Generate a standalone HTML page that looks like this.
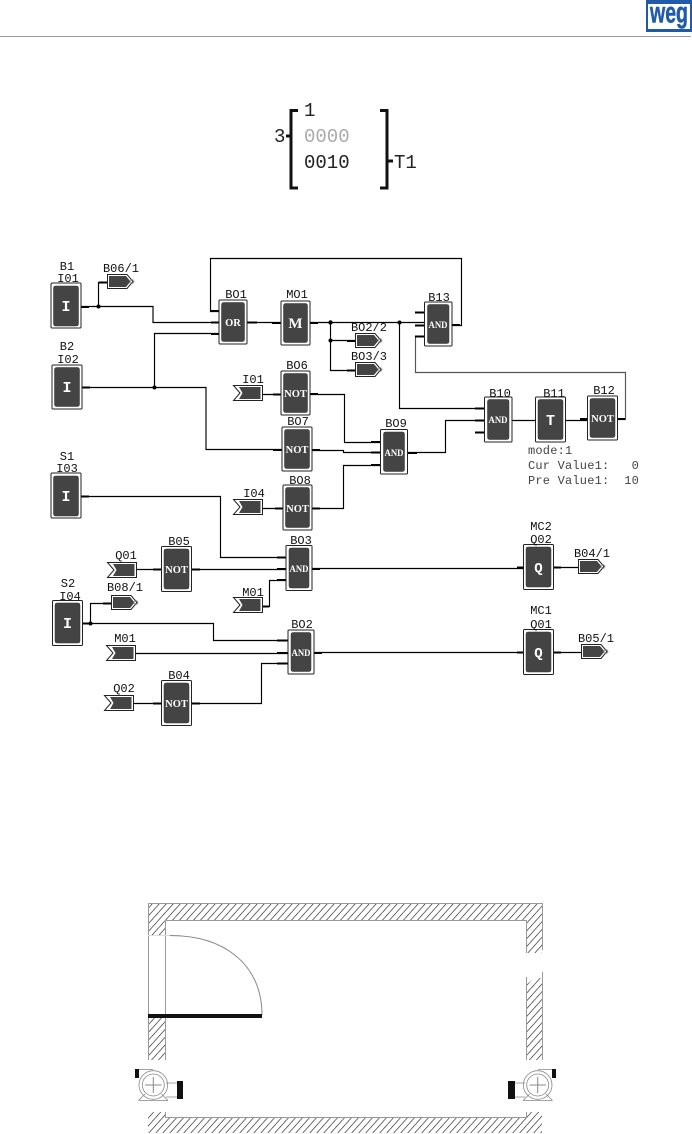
<!DOCTYPE html>
<html><head><meta charset="utf-8"><style>
html,body{margin:0;padding:0;background:#fff}
svg{display:block}
.w{fill:none;stroke:#000;stroke-width:1.15}
.s{fill:none;stroke:#000;stroke-width:2}
.o{fill:#fff;stroke:#222;stroke-width:1}
.i{fill:#444;stroke:#333;stroke-width:.5}
.l{font:12px "Liberation Mono",monospace;fill:#111;text-anchor:middle}
.b{font:bold 10.5px "Liberation Serif",serif;fill:#fff;text-anchor:middle}
.c{font:bold 15px "Liberation Mono",monospace;fill:#fff;text-anchor:middle}
.v{font:12px "Liberation Mono",monospace;fill:#444;letter-spacing:.2px;white-space:pre}
.m{font:19px "Liberation Mono",monospace}
.g{fill:none;stroke:#999;stroke-width:1}
</style></head><body>
<svg width="692" height="1134" viewBox="0 0 692 1134" xmlns="http://www.w3.org/2000/svg">
<defs>
<g id="tout"><polygon points="0.5,0.5 20,0.5 26,7.5 20,14.5 0.5,14.5" fill="#fff" stroke="#222"/><polygon points="2,2 19,2 23.5,7.5 19,13 2,13" fill="#444"/><circle cx="25" cy="7.5" r="2" fill="none" stroke="#777" stroke-width=".6"/></g>
<g id="tin"><polygon points="0.5,0.5 29.5,0.5 29.5,15.5 0.5,15.5 7,8" fill="#fff" stroke="#222"/><polygon points="6,2 27.5,2 27.5,14 6,14 9.5,8" fill="#444"/></g>
<pattern id="h" patternUnits="userSpaceOnUse" width="5.2" height="5.2" patternTransform="rotate(42)"><line x1="0" y1="0" x2="0" y2="5.2" stroke="#111" stroke-width="1.2"/></pattern>
</defs>
<rect width="692" height="1134" fill="#fff"/>

<!-- header -->
<line x1="0" y1="36.5" x2="691" y2="36.5" stroke="#999"/>
<rect x="646" y="0" width="46" height="32" fill="#1f5ba8"/>
<rect x="648" y="4" width="42" height="25" fill="#fff"/>
<text x="669" y="22.5" font-family="Liberation Sans,sans-serif" font-weight="bold" font-size="30" fill="#1f5ba8" stroke="#1f5ba8" stroke-width=".5" text-anchor="middle" textLength="38" lengthAdjust="spacingAndGlyphs">weg</text>

<!-- matrix -->
<path d="M298 110.5H291V188H298M291 136H286" fill="none" stroke="#111" stroke-width="3"/>
<path d="M380 110.5H387V188H380M387 161H393" fill="none" stroke="#111" stroke-width="3"/>
<text class="m" x="274" y="142" fill="#222">3</text>
<text class="m" x="304" y="116" fill="#222">1</text>
<text class="m" x="304" y="142" fill="#aaa">0000</text>
<text class="m" x="304" y="168" fill="#222">0010</text>
<text class="m" x="394" y="168" fill="#222">T1</text>

<!-- wires -->
<path class="w" d="M80 306.5H153V322.5H219M98.5 306.5V282.5H108"/>
<path class="w" d="M82 387.5H206V449.5H282M154.5 387.5V333.5H219"/>
<path class="w" d="M219 311.5H210.5V258.5H461.5V325.5H452"/>
<path class="w" d="M247 322.5H281M310 322.5H424M330.5 322.5V370.5H356M330.5 340.5H356"/>
<path class="w" d="M399.5 322.5V408.5H484"/>
<path class="w" style="stroke:#555" d="M424 336.5H415.5V372.5H625.5V419.5H618"/>
<path class="w" d="M512 420.5H535M565 420.5H587M484 420.5H445.5V452.5H408"/>
<path class="w" d="M263 394.5H281M310 394.5H344.5V442.5H380M312 450.5H343.5V452.5H380M263 508.5H283M312 508.5H343.5V465.5H380"/>
<path class="w" d="M81 496.5H220.5V557.5H286M136 569.5H161M192 569.5H286M263 606.5H269.5V580.5H286M312 568.5H523M553 567.5H578"/>
<path class="w" d="M83 623.5H213.5V640.5H288M90.5 623.5V603.5H111M135 653.5H288M133 703.5H161M192 703.5H261.5V663.5H288M314 652.5H523M553 652.5H581"/>
<!-- thick terminal stubs -->
<path class="s" d="M81 307H89M82 387.5H90M81 496.5H89M83 623.5H89M99 282.5H107M211 311H219M211 322.5H219M211 334H219M247 322.5H257M272 323H281M310 323H318M415 312.5H424M415 325.5H424M415 336.5H424M452 325H460M347 341H355M347 370.5H355"/>
<path class="s" d="M273 394.5H281M310 394H318M273 450H282M312 450H320M275 508.5H283M312 508.5H320M371 442H380M371 452.5H380M371 465H380M408 453H417"/>
<path class="s" d="M475 408.5H484M475 420.5H484M475 432.5H484M580 419H587M618 419H625"/>
<path class="s" d="M153 569.5H161M192 569.5H200M277 557.5H286M277 569H286M277 580H286M312 569H320M263 606.5H269M517 567.5H523M553 567.5H561"/>
<path class="s" d="M277 640.5H288M277 653H288M277 663.5H288M314 653H322M153 703.5H161M192 703.5H200M517 652.5H523M553 652.5H561M103 603.5H111"/>
<g fill="#000"><circle cx="98.5" cy="306.5" r="2"/><circle cx="154.5" cy="387.5" r="2"/><circle cx="330.5" cy="322.5" r="2.2"/><circle cx="330.5" cy="340.5" r="2"/><circle cx="399.5" cy="322.5" r="2"/><circle cx="90.5" cy="623.5" r="2"/></g>

<!-- blocks -->
<rect class="o" x="51" y="283" width="30" height="45" rx="1"/><rect class="i" x="53.5" y="286" width="25" height="40" rx="2"/>
<rect class="o" x="52" y="365" width="30" height="44" rx="1"/><rect class="i" x="54.5" y="367.5" width="25" height="39" rx="2"/>
<rect class="o" x="51" y="473" width="30" height="45" rx="1"/><rect class="i" x="53.5" y="476" width="25" height="40" rx="2"/>
<rect class="o" x="52.5" y="600.5" width="30" height="45" rx="1"/><rect class="i" x="55" y="603" width="25" height="40" rx="2"/>
<rect class="o" x="219" y="300" width="28" height="44" rx="1"/><rect class="i" x="221.5" y="302.5" width="23" height="39" rx="2"/>
<rect class="o" x="281" y="301" width="29" height="44" rx="1"/><rect class="i" x="283.5" y="303.5" width="24" height="39" rx="2"/>
<rect class="o" x="281" y="371" width="29" height="44" rx="1"/><rect class="i" x="283.5" y="373.5" width="24" height="39" rx="2"/>
<rect class="o" x="282" y="427" width="30" height="44" rx="1"/><rect class="i" x="284.5" y="429.5" width="25" height="39" rx="2"/>
<rect class="o" x="283" y="485" width="29" height="45" rx="1"/><rect class="i" x="285.5" y="487.5" width="24" height="40" rx="2"/>
<rect class="o" x="424.5" y="302" width="27.5" height="44" rx="1"/><rect class="i" x="427.5" y="304.5" width="21.5" height="39" rx="2"/>
<rect class="o" x="484.5" y="397" width="27.5" height="45" rx="1"/><rect class="i" x="487.5" y="399.5" width="21.5" height="40" rx="2"/>
<rect class="o" x="535.5" y="397" width="30" height="45" rx="1"/><rect class="i" x="538" y="399.5" width="25" height="40" rx="2"/>
<rect class="o" x="587.5" y="396" width="30" height="44" rx="1"/><rect class="i" x="590" y="398.5" width="25" height="39" rx="2"/>
<rect class="o" x="380.5" y="429.5" width="27" height="44.5" rx="1"/><rect class="i" x="383.5" y="432" width="21" height="39.5" rx="2"/>
<rect class="o" x="161.5" y="546.5" width="30" height="45" rx="1"/><rect class="i" x="164" y="549" width="25" height="40" rx="2"/>
<rect class="o" x="286" y="545.5" width="26" height="45" rx="1"/><rect class="i" x="289" y="548" width="20" height="40" rx="2"/>
<rect class="o" x="288" y="630" width="26" height="44" rx="1"/><rect class="i" x="291" y="632.5" width="20" height="39" rx="2"/>
<rect class="o" x="161.5" y="680.5" width="30" height="45" rx="1"/><rect class="i" x="164" y="683" width="25" height="40" rx="2"/>
<rect class="o" x="523.5" y="544.5" width="30" height="45" rx="1"/><rect class="i" x="526" y="547" width="25" height="40" rx="2"/>
<rect class="o" x="523.5" y="629.5" width="30" height="45" rx="1"/><rect class="i" x="526" y="632" width="25" height="40" rx="2"/>

<!-- block glyph labels -->
<text class="c" x="66" y="311">I</text>
<text class="c" x="67" y="392">I</text>
<text class="c" x="66" y="501">I</text>
<text class="c" x="67.5" y="628">I</text>
<text class="b" x="233" y="326">OR</text>
<text class="c" style="font-family:'Liberation Serif',serif" x="295.5" y="328">M</text>
<text class="b" x="295.5" y="397">NOT</text>
<text class="b" x="297" y="453">NOT</text>
<text class="b" x="297.5" y="512">NOT</text>
<text class="b" x="176.5" y="573">NOT</text>
<text class="b" x="176.5" y="707">NOT</text>
<text class="b" x="602.5" y="422">NOT</text>
<text class="b" style="font-size:9.5px" x="438" y="328" textLength="19" lengthAdjust="spacingAndGlyphs">AND</text>
<text class="b" style="font-size:9.5px" x="498" y="423" textLength="19" lengthAdjust="spacingAndGlyphs">AND</text>
<text class="b" style="font-size:9.5px" x="394" y="456" textLength="19" lengthAdjust="spacingAndGlyphs">AND</text>
<text class="b" style="font-size:9.5px" x="299" y="572" textLength="19" lengthAdjust="spacingAndGlyphs">AND</text>
<text class="b" style="font-size:9.5px" x="301" y="656" textLength="19" lengthAdjust="spacingAndGlyphs">AND</text>
<text class="c" x="550.5" y="425">T</text>
<text class="c" style="font-size:14px" x="538.5" y="572">Q</text>
<text class="c" style="font-size:14px" x="538.5" y="657">Q</text>

<!-- tags -->
<use href="#tout" x="107" y="274"/>
<use href="#tout" x="355" y="333"/>
<use href="#tout" x="355" y="362"/>
<use href="#tout" x="111" y="595"/>
<use href="#tout" x="578" y="559"/>
<use href="#tout" x="581" y="644"/>
<use href="#tin" x="233" y="385"/>
<use href="#tin" x="233" y="499"/>
<use href="#tin" x="233" y="597"/>
<use href="#tin" x="107" y="562"/>
<use href="#tin" x="106" y="645"/>
<use href="#tin" x="104" y="695"/>

<!-- labels -->
<text class="l" x="67" y="270">B1</text>
<text class="l" x="68" y="282">I01</text>
<text class="l" x="121" y="272">B06/1</text>
<text class="l" x="236" y="298">BO1</text>
<text class="l" x="297" y="298">MO1</text>
<text class="l" x="67" y="350">B2</text>
<text class="l" x="68" y="363">I02</text>
<text class="l" x="297" y="369">BO6</text>
<text class="l" x="253" y="383">I01</text>
<text class="l" x="298" y="425">BO7</text>
<text class="l" x="300" y="484">BO8</text>
<text class="l" x="67" y="460">S1</text>
<text class="l" x="67" y="472">I03</text>
<text class="l" x="439" y="301">B13</text>
<text class="l" x="369" y="331">BO2/2</text>
<text class="l" x="369" y="360">BO3/3</text>
<text class="l" x="500" y="397">B10</text>
<text class="l" x="554" y="397">B11</text>
<text class="l" x="604" y="394">B12</text>
<text class="l" x="396" y="427">BO9</text>
<text class="l" x="254" y="497">I04</text>
<text class="l" x="301" y="544">BO3</text>
<text class="l" x="179" y="545">B05</text>
<text class="l" x="126" y="559">Q01</text>
<text class="l" x="253" y="596">M01</text>
<text class="l" x="68" y="587">S2</text>
<text class="l" x="70" y="600">I04</text>
<text class="l" x="125" y="591">B08/1</text>
<text class="l" x="302" y="628">BO2</text>
<text class="l" x="125" y="642">M01</text>
<text class="l" x="124" y="692">Q02</text>
<text class="l" x="179" y="679">B04</text>
<text class="l" x="541" y="530">MC2</text>
<text class="l" x="541" y="543">Q02</text>
<text class="l" x="592" y="557">B04/1</text>
<text class="l" x="541" y="614">MC1</text>
<text class="l" x="541" y="628">Q01</text>
<text class="l" x="596" y="642">B05/1</text>
<text class="v" x="528" y="454">mode:1</text>
<text class="v" x="528" y="469">Cur Value1:   0</text>
<text class="v" x="528" y="484">Pre Value1:  10</text>

<!-- floor plan -->
<rect x="148" y="903" width="394" height="17" fill="url(#h)"/>
<rect x="148" y="920" width="17" height="15" fill="url(#h)"/>
<rect x="148" y="1018" width="17" height="42" fill="url(#h)"/>
<rect x="526" y="920" width="16" height="33" fill="url(#h)"/>
<rect x="526" y="978" width="16" height="82" fill="url(#h)"/>
<polygon points="526,972 542,972 526,985" fill="#fff"/>
<rect x="148" y="1117" width="394" height="16" fill="url(#h)"/>
<rect x="148" y="1112" width="17" height="5" fill="url(#h)"/>
<rect x="526" y="1112" width="16" height="5" fill="url(#h)"/>
<path class="g" d="M148.5 903.5H542.5V950M148.5 903.5V1060M165.5 920.5H526.5V953M165.5 920.5V1060M526.5 977V1060M542.5 972V1060M165.5 1112V1117.5H526.5V1112"/>
<path d="M148 935.5H180" stroke="#ddd" fill="none"/>
<path d="M170 935.5C225 935.5 262 965 262 1015" fill="none" stroke="#888"/>
<rect x="148" y="1014" width="114" height="4" fill="#111"/>

<g fill="none" stroke="#888" stroke-width=".8">
<circle cx="153.3" cy="1085" r="14.3"/><circle cx="153.3" cy="1085" r="11"/>
<path stroke-width="1" d="M145 1085H161.500M153.300 1077V1093"/>
<path d="M139 1069.500H153M166 1083H177M166 1097H177M138.500 1100.500L145 1094M168 1100.500L161.500 1094M138.500 1100.500H168"/>
<circle cx="537.700" cy="1085" r="14.300"/><circle cx="537.700" cy="1085" r="11"/>
<path stroke-width="1" d="M529.500 1085H546M537.700 1077V1093"/>
<path d="M538 1069.500H552M514 1083H525M514 1097H525M523 1100.500L529.500 1094M552.500 1100.500L546 1094M523 1100.500H552.500"/>
</g>
<g fill="#111">
<rect x="135" y="1069" width="4" height="9"/>
<rect x="177" y="1081" width="6" height="18"/>
<rect x="508" y="1081" width="7" height="18"/>
<rect x="552" y="1069" width="4" height="9"/>
</g>
</svg>
</body></html>
